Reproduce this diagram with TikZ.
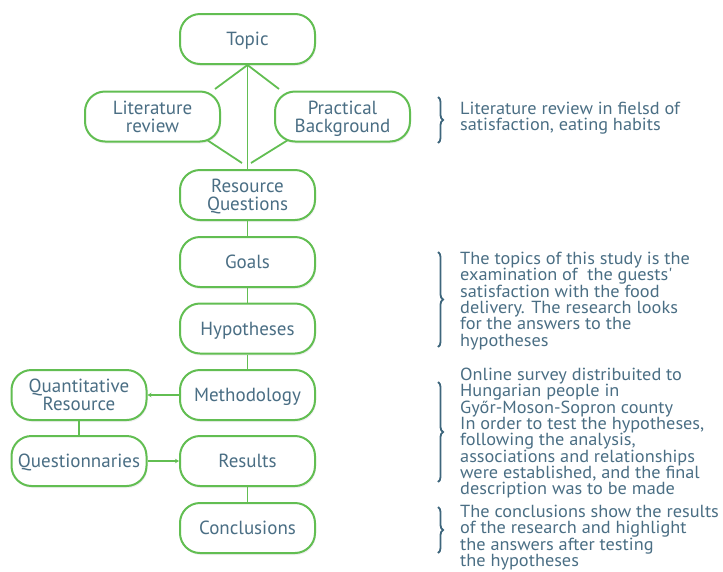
\documentclass[tikz,border=0pt]{standalone}
\usepackage{fontspec}
\setmainfont{PT Sans}
\newfontfamily\notefont[FakeStretch=1.045]{PT Sans}
\usetikzlibrary{arrows.meta,decorations.pathreplacing,shadows}
\definecolor{gr}{RGB}{98,190,82}
\definecolor{tx}{RGB}{74,110,132}
\definecolor{br}{RGB}{62,102,124}
\begin{document}
\begin{tikzpicture}[x=1pt,y=1pt,
  box/.style={draw=gr, line width=2pt, rounded corners=20pt, minimum width=135pt,
    minimum height=50pt, align=center, text=tx, inner sep=2pt, text depth=0pt,
    font=\fontsize{19}{18}\selectfont, fill=white,
    drop shadow={opacity=0.12, shadow xshift=1pt, shadow yshift=-2pt}},
  link/.style={draw=gr, line width=1.8pt},
  arr/.style={link, -{Stealth[length=4pt,width=4.5pt]}},
  note/.style={anchor=north west, inner sep=0pt, align=left, text=tx,
    font=\notefont\fontsize{17.5}{16.3}\selectfont},
  brc/.style={draw=br, line width=1.8pt, decorate, decoration={brace, amplitude=5pt}}]
\useasboundingbox (0,0) rectangle (723,-571);
% boxes
\node[box] (topic) at (247.5,-39) {Topic};
\node[box] (lit) at (152.5,-116.5) {Literature\\review};
\node[box] (prac) at (342.5,-116.5) {Practical\\Background};
\node[box] (rq) at (247.5,-195) {Resource\\Questions};
\node[box] (goals) at (247.5,-262) {Goals};
\node[box] (hyp) at (247.5,-328.5) {Hypotheses};
\node[box] (meth) at (247.5,-395) {Methodology};
\node[box] (quant) at (79,-395) {Quantitative\\Resource};
\node[box] (quest) at (79,-461) {Questionnaries};
\node[box] (res) at (247.5,-461) {Results};
\node[box] (concl) at (247.5,-528) {Conclusions};
% connectors
\coordinate (tl) at (215,-89);
\coordinate (tr) at (279,-89);
\coordinate (lb) at (207,-140);
\coordinate (lbe) at (242,-163);
\coordinate (pb) at (288,-140);
\coordinate (pbe) at (251,-163);
\draw[link] (topic.south) -- (rq.north);
\draw[link] (topic.south) -- (tl);
\draw[link] (topic.south) -- (tr);
\draw[link] (lb) -- (lbe);
\draw[link] (pb) -- (pbe);
\draw[link] (rq.south) -- (goals.north);
\draw[link] (goals.south) -- (hyp.north);
\draw[link] (hyp.south) -- (meth.north);
\draw[arr] (meth.west) -- (quant.east);
\draw[link] (quant.south) -- (quest.north);
\draw[arr] (quest.east) -- (res.west);
\draw[link] (res.south) -- (concl.north);
% braces
\coordinate (b1t) at (438,-97);  \coordinate (b1b) at (438,-143);
\coordinate (b2t) at (438,-252); \coordinate (b2b) at (438,-347);
\coordinate (b3t) at (438,-382); \coordinate (b3b) at (438,-482);
\coordinate (b4t) at (438,-507); \coordinate (b4b) at (438,-553);
\draw[brc] (b1t) -- (b1b);
\draw[brc] (b2t) -- (b2b);
\draw[brc] (b3t) -- (b3b);
\draw[brc] (b4t) -- (b4b);
% notes
\node[note] (n1) at (460,-102) {Literature review in fielsd of\\satisfaction, eating habits};
\node[note] (n2) at (460,-252) {The topics of this study is the\\examination of \ the guests'\\satisfaction with the food\\delivery. The research looks\\for the answers to the\\hypotheses};
\node[note] (n3) at (460,-368) {Online survey distribuited to\\Hungarian people in\\Győr-Moson-Sopron county\\In order to test the hypotheses,\\following the analysis,\\associations and relationships\\were established, and the final\\description was to be made};
\node[note] (n4) at (460,-505) {The conclusions show the results\\of the research and highlight\\the answers after testing\\the hypotheses};
\end{tikzpicture}
\end{document}
